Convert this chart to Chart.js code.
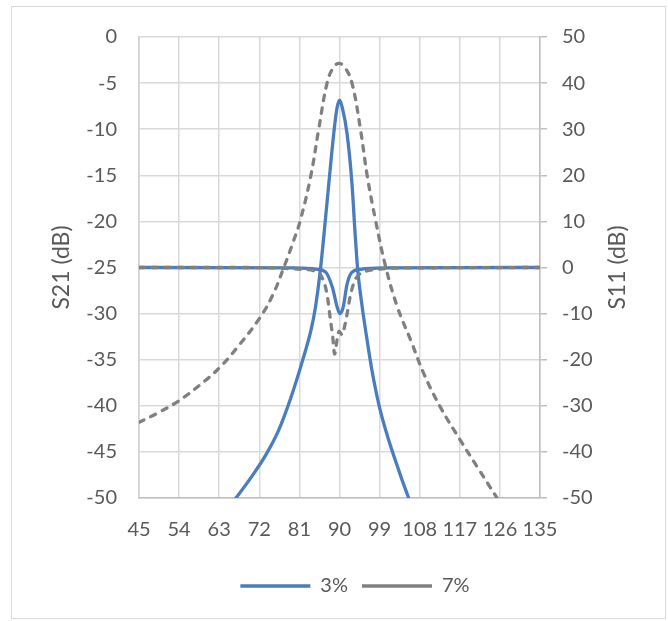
<!DOCTYPE html>
<html>
<head>
<meta charset="utf-8">
<script src="https://cdn.jsdelivr.net/npm/chart.js@4.4.1/dist/chart.umd.min.js"></script>
<style>
  html, body { margin: 0; padding: 0; background: #fff; }
</style>
</head>
<body>
<canvas id="myChart" width="668" height="621"></canvas>
<script>
// frequency (x) and dB values, one pair of arrays per curve
const f21_3 = [63, 66.6, 70.4, 73.5, 76.3, 79.1, 81.7, 83.6, 84.6, 85.7, 86.5, 87.6, 88.7, 89.4, 90, 90.6, 91.7, 92.8, 93.5, 94.1, 95.1, 96.2, 97.3, 98.9, 100.9, 103.3, 105.6, 108]
const s21_3 = [-52.3, -50.1, -47.6, -45.3, -42.7, -39.1, -35.1, -31.8, -29.3, -25.3, -21.5, -15.9, -10.5, -7.8, -6.85, -7.6, -10.5, -15.9, -21.3, -25.3, -29.3, -32.9, -36.2, -40.0, -43.5, -47.0, -50.1, -53]

const f21_7 = [45, 49.5, 53.8, 58.5, 63.2, 67.5, 72.2, 75, 77.5, 79.7, 81.2, 83.5, 85.3, 87.2, 88.5, 89.8, 91.2, 92.8, 94.7, 96.2, 98.1, 100.4, 103, 106, 109, 112.7, 117.2, 121, 125.5, 128]
const s21_7 = [-41.8, -40.7, -39.5, -37.8, -35.8, -33.4, -30.4, -28.0, -25.0, -22.1, -19.9, -15.2, -10.1, -5.0, -3.4, -2.86, -3.3, -5.0, -10.0, -15.0, -19.9, -25.0, -29.3, -32.9, -36.6, -40.2, -43.8, -46.7, -50.1, -52]

const f11_3 = [45, 80, 85, 86.9, 88.4, 89.5, 90.1, 90.8, 91.7, 92.8, 94.7, 100, 135]
const s11_3 = [0, -0.1, -0.4, -1.0, -4.3, -8.7, -10.0, -8.7, -3.6, -1.0, -0.4, -0.1, 0]

const f11_7 = [45, 70, 78, 81.6, 84.2, 86.1, 87.2, 87.9, 88.5, 88.9, 89.4, 89.9, 90.6, 91.1, 91.7, 92.5, 93.6, 95.5, 98.5, 105, 135]
const s11_7 = [0, 0, -0.2, -0.4, -0.7, -2.2, -5.8, -10.9, -15.2, -18.8, -16.0, -13.8, -14.6, -13.0, -10.1, -5.8, -2.5, -1.0, -0.4, -0.1, 0]

const seriesNames = ['3%', '7%']
const xTicks = { min: 45, max: 135, step: 9 }
const leftTicks = { min: -50, max: 0, step: 5 }
const rightTicks = { min: -50, max: 50, step: 10 }

const BLUE = '#4a7dbd'
const GRAY = '#808080'
const TEXT = '#595959'

const pairs = (xs, ys) => xs.map((x, i) => ({ x: x, y: ys[i] }))

const solid = { borderColor: BLUE, backgroundColor: BLUE, borderWidth: 3.3, borderCapStyle: 'round' }
const dashed = { borderColor: GRAY, backgroundColor: GRAY, borderWidth: 3.3, borderDash: [5.5, 7.5], borderCapStyle: 'round' }
const common = { pointRadius: 0, pointHoverRadius: 0, fill: false }
const smooth = { tension: 0.4 }
const dip = { cubicInterpolationMode: 'monotone' }

const extras = {
  id: 'extras',
  beforeDraw(chart) {
    const ctx = chart.ctx
    ctx.save()
    ctx.fillStyle = '#fff'
    ctx.fillRect(0, 0, chart.width, chart.height)
    ctx.strokeStyle = '#d9d9d9'
    ctx.lineWidth = 1
    ctx.strokeRect(11.5, 6.5, 654, 612)
    ctx.restore()
  },
  afterDraw(chart) {
    // right axis title reads bottom-to-top like the left one
    const ctx = chart.ctx
    const area = chart.chartArea
    ctx.save()
    ctx.translate(618, (area.top + area.bottom) / 2)
    ctx.rotate(-Math.PI / 2)
    ctx.font = '23px Lato'
    ctx.fillStyle = TEXT
    ctx.textAlign = 'center'
    ctx.textBaseline = 'middle'
    ctx.fillText('S11 (dB)', 0, 0)
    ctx.restore()
  }
}

function draw() {
  Chart.defaults.font.family = 'Lato'
  Chart.defaults.color = TEXT

  const ctx = document.getElementById('myChart').getContext('2d')
  new Chart(ctx, {
    type: 'line',
    data: {
      datasets: [
        { label: seriesNames[1], data: pairs(f21_7, s21_7), yAxisID: 'y', order: 1, ...dashed, ...common, ...smooth },
        { label: seriesNames[1] + ' S11', data: pairs(f11_7, s11_7), yAxisID: 'y1', order: 1, hideInLegend: true, ...dashed, ...common, ...dip },
        { label: seriesNames[0], data: pairs(f21_3, s21_3), yAxisID: 'y', order: 2, ...solid, ...common, ...dip },
        { label: seriesNames[0] + ' S11', data: pairs(f11_3, s11_3), yAxisID: 'y1', order: 2, hideInLegend: true, ...solid, ...common, ...dip }
      ]
    },
    options: {
      responsive: false,
      animation: false,
      events: [],
      layout: { padding: { left: 42, right: 0, top: 37, bottom: 15 } },
      scales: {
        x: {
          type: 'linear',
          min: xTicks.min,
          max: xTicks.max,
          ticks: { stepSize: xTicks.step, autoSkip: false, maxRotation: 0, padding: 20, font: { size: 20 }, color: TEXT },
          grid: { color: '#d9d9d9', lineWidth: 1.5, drawTicks: false },
          border: { color: '#bfbfbf', width: 1.5 },
          afterFit: (scale) => { scale.height = 64 }
        },
        y: {
          position: 'left',
          min: leftTicks.min,
          max: leftTicks.max,
          ticks: { stepSize: leftTicks.step, padding: 22, font: { size: 20 }, color: TEXT },
          grid: { color: '#d9d9d9', lineWidth: 1.5, drawTicks: false },
          border: { color: '#d0d0d0', width: 1.5 },
          title: { display: true, text: 'S21 (dB)', font: { size: 23 }, color: TEXT, padding: { top: 6, bottom: 0 } },
          afterFit: (scale) => { scale.width = 97 }
        },
        y1: {
          position: 'right',
          min: rightTicks.min,
          max: rightTicks.max,
          ticks: { stepSize: rightTicks.step, padding: 15, font: { size: 20 }, color: TEXT },
          grid: { drawOnChartArea: false, drawTicks: true, tickLength: 7, color: '#bfbfbf', lineWidth: 1.5 },
          border: { color: '#bfbfbf', width: 1.5 },
          afterFit: (scale) => { scale.width = 128 }
        }
      },
      plugins: {
        tooltip: { enabled: false },
        legend: {
          position: 'bottom',
          labels: {
            usePointStyle: true,
            pointStyle: 'line',
            pointStyleWidth: 70,
            padding: 14,
            font: { size: 20 },
            color: TEXT,
            filter: (item, data) => !data.datasets[item.datasetIndex].hideInLegend,
            sort: (a, b) => seriesNames.indexOf(a.text) - seriesNames.indexOf(b.text)
          }
        }
      }
    },
    plugins: [extras]
  })
}

if (document.fonts && document.fonts.load) {
  Promise.all([document.fonts.load('20px Lato'), document.fonts.load('23px Lato')]).then(draw, draw)
} else {
  draw()
}
</script>
</body>
</html>
